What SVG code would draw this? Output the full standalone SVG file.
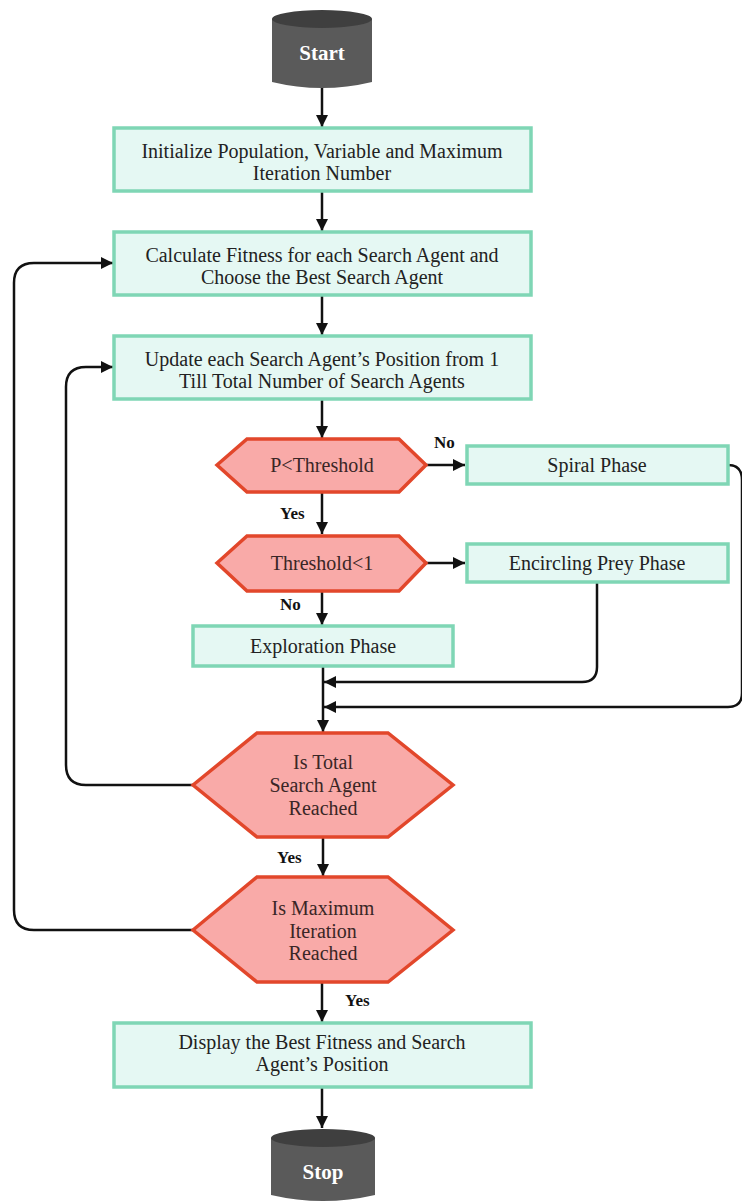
<svg xmlns="http://www.w3.org/2000/svg" width="742" height="1201" viewBox="0 0 742 1201">
<defs>
<style>
.box{fill:#e5f8f3;stroke:#7fd6b5;stroke-width:3.5}
.hex{fill:#f9aaa8;stroke:#e2472b;stroke-width:3.5}
.cylb{fill:#5a5a5a}
.cylt{fill:#3f3f3f}
.t{font-family:"Liberation Serif","Times New Roman",serif;font-size:20px;fill:#222;text-anchor:middle}
.ht{font-family:"Liberation Serif","Times New Roman",serif;font-size:20px;fill:#3a2626;text-anchor:middle}
.ct{font-family:"Liberation Serif","Times New Roman",serif;font-size:21px;font-weight:bold;fill:#fff;text-anchor:middle}
.lbl{font-family:"Liberation Serif","Times New Roman",serif;font-size:17px;font-weight:bold;fill:#111}
.c{fill:none;stroke:#111;stroke-width:2.5}
</style>
<marker id="ah" viewBox="0 0 10 10" refX="10" refY="5" markerWidth="12" markerHeight="12" markerUnits="userSpaceOnUse" orient="auto">
<path d="M0,0 L10,5 L0,10 z" fill="#111"/>
</marker>
</defs>
<rect width="742" height="1201" fill="#ffffff"/>

<g id="connectors">
<line class="c" x1="322" y1="88" x2="322" y2="127" marker-end="url(#ah)"/>
<line class="c" x1="322" y1="191" x2="322" y2="231" marker-end="url(#ah)"/>
<line class="c" x1="322" y1="295" x2="322" y2="335" marker-end="url(#ah)"/>
<line class="c" x1="322" y1="399" x2="322" y2="438" marker-end="url(#ah)"/>
<line class="c" x1="426" y1="465" x2="465" y2="465" marker-end="url(#ah)"/>
<line class="c" x1="322" y1="492" x2="322" y2="534" marker-end="url(#ah)"/>
<line class="c" x1="426" y1="563" x2="465" y2="563" marker-end="url(#ah)"/>
<line class="c" x1="322" y1="591" x2="322" y2="625" marker-end="url(#ah)"/>
<line class="c" x1="323" y1="666" x2="323" y2="732" marker-end="url(#ah)"/>
<path class="c" d="M597,582 V667 Q597,682 582,682 H324" marker-end="url(#ah)"/>
<path class="c" d="M728,465 Q742,465 742,480 V693 Q742,707 728,707 H324" marker-end="url(#ah)"/>
<line class="c" x1="323" y1="837" x2="323" y2="876" marker-end="url(#ah)"/>
<path class="c" d="M193,785 H86 Q66,785 66,765 V387 Q66,367 86,367 H113" marker-end="url(#ah)"/>
<path class="c" d="M193,930 H34 Q14,930 14,910 V283 Q14,263 34,263 H113" marker-end="url(#ah)"/>
<line class="c" x1="322" y1="982" x2="322" y2="1022" marker-end="url(#ah)"/>
<line class="c" x1="322" y1="1087" x2="322" y2="1128" marker-end="url(#ah)"/>
<text class="lbl" x="434" y="448">No</text>
<text class="lbl" x="280" y="519">Yes</text>
<text class="lbl" x="280" y="610">No</text>
<text class="lbl" x="277" y="863">Yes</text>
<text class="lbl" x="345" y="1006">Yes</text>
</g>

<g id="start">
<path class="cylb" d="M272,19 V82 Q322,94 372,82 V19 z"/>
<ellipse class="cylt" cx="322" cy="19" rx="50" ry="9"/>
<text class="ct" x="322" y="60">Start</text>
</g>

<g id="init">
<rect class="box" x="114" y="128" width="417" height="63"/>
<text class="t" x="322" y="158">Initialize Population, Variable and Maximum</text>
<text class="t" x="322" y="180">Iteration Number</text>
</g>

<g id="calc">
<rect class="box" x="114" y="232" width="417" height="63"/>
<text class="t" x="322" y="262">Calculate Fitness for each Search Agent and</text>
<text class="t" x="322" y="284">Choose the Best Search Agent</text>
</g>

<g id="update">
<rect class="box" x="114" y="336" width="417" height="63"/>
<text class="t" x="322" y="366">Update each Search Agent’s Position from 1</text>
<text class="t" x="322" y="388">Till Total Number of Search Agents</text>
</g>

<g id="pthreshold">
<polygon class="hex" points="217,465 247,439 399,439 426,465 399,492 247,492"/>
<text class="ht" x="322" y="472">P&lt;Threshold</text>
</g>

<g id="spiral">
<rect class="box" x="467" y="446" width="261" height="38"/>
<text class="t" x="597" y="472">Spiral Phase</text>
</g>

<g id="threshold1">
<polygon class="hex" points="217,563 247,536 399,536 426,563 399,591 247,591"/>
<text class="ht" x="322" y="570">Threshold&lt;1</text>
</g>

<g id="encircling">
<rect class="box" x="467" y="544" width="261" height="38"/>
<text class="t" x="597" y="570">Encircling Prey Phase</text>
</g>

<g id="exploration">
<rect class="box" x="193" y="626" width="260" height="40"/>
<text class="t" x="323" y="653">Exploration Phase</text>
</g>

<g id="istotal">
<polygon class="hex" points="193,785 257,733 388,733 453,785 388,837 257,837"/>
<text class="ht" x="323" y="769">Is Total</text>
<text class="ht" x="323" y="792">Search Agent</text>
<text class="ht" x="323" y="815">Reached</text>
</g>

<g id="ismax">
<polygon class="hex" points="193,930 257,877 388,877 453,930 388,982 257,982"/>
<text class="ht" x="323" y="915">Is Maximum</text>
<text class="ht" x="323" y="938">Iteration</text>
<text class="ht" x="323" y="960">Reached</text>
</g>

<g id="display">
<rect class="box" x="114" y="1023" width="417" height="64"/>
<text class="t" x="322" y="1049">Display the Best Fitness and Search</text>
<text class="t" x="322" y="1071">Agent’s Position</text>
</g>

<g id="stop">
<path class="cylb" d="M271,1138 V1195 Q323,1207 375,1195 V1138 z"/>
<ellipse class="cylt" cx="323" cy="1138" rx="52" ry="9"/>
<text class="ct" x="323" y="1179">Stop</text>
</g>
</svg>
